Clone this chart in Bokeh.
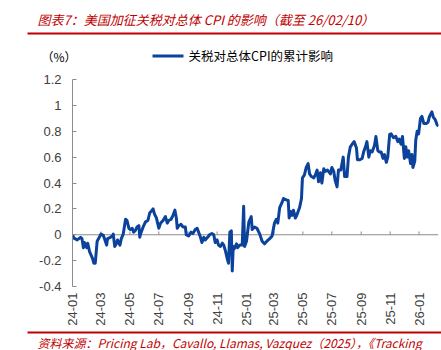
import pandas as pd
from bokeh.plotting import figure
from bokeh.layouts import column
from bokeh.models import (Label, Span, FixedTicker, Range1d,
                          ColumnDataSource, CustomJSTickFormatter)
from bokeh.embed import file_html
from bokeh.resources import INLINE

# ---------------- data ----------------
start_date = "2024-01-01"
day_offsets = [0, 3, 10, 17, 20, 23, 25, 30, 32, 36, 42, 45, 48, 52, 58, 60, 65, 67, 72, 74,
               80, 84, 86, 89, 93, 95, 100, 103, 107, 112, 115, 119, 122, 126, 129, 133, 136, 140, 142, 143,
               149, 154, 159, 163, 166, 170, 173, 177, 182, 186, 191, 196, 200, 203, 208, 212, 216, 219, 221, 224,
               229, 233, 238, 240, 245, 250, 254, 259, 263, 266, 270, 273, 277, 280, 285, 289, 294, 298, 301, 305,
               308, 312, 316, 319, 323, 326, 329, 332, 335, 337, 339, 341, 346, 348, 353, 358, 361, 363, 367, 372,
               377, 379, 384, 389, 395, 400, 405, 410, 416, 421, 426, 430, 433, 437, 442, 445, 451, 455, 457, 460,
               463, 466, 470, 473, 479, 483, 485, 489, 493, 497, 500, 504, 509, 512, 516, 519, 523, 526, 530, 533,
               538, 544, 547, 551, 554, 558, 561, 566, 571, 574, 579, 582, 586, 590, 594, 599, 601, 606, 611, 614,
               618, 621, 625, 628, 632, 637, 640, 644, 647, 651, 655, 658, 662, 665, 669, 672, 677, 682, 686, 689,
               693, 696, 700, 703, 706, 709, 713, 716, 718, 722, 724, 727, 730, 734, 737, 741, 746, 750, 753, 758,
               761, 765, 769, 772]
cpi_impact = [0.0, -0.026, -0.04, -0.02, -0.03, -0.10, -0.06, -0.10, -0.065, -0.13, -0.18, -0.22, -0.22, -0.05, -0.01, 0.005, -0.005, -0.026, -0.08, -0.03,
              -0.02, -0.01, 0.005, -0.09, -0.065, -0.04, -0.08, -0.03, 0.005, 0.12, 0.11, 0.05, 0.04, 0.05, 0.02, 0.035, 0.06, 0.07, -0.02, 0.0,
              0.06, 0.10, 0.11, 0.17, 0.18, 0.20, 0.16, 0.13, 0.05, 0.09, 0.11, 0.14, 0.09, 0.11, 0.12, 0.15, 0.19, 0.13, 0.05, 0.07,
              0.08, 0.06, 0.06, 0.0, -0.01, 0.02, 0.01, 0.04, 0.05, 0.02, -0.02, -0.06, -0.02, -0.04, -0.02, 0.0, 0.01, 0.0, -0.06, -0.04,
              -0.08, -0.09, -0.065, -0.08, -0.13, -0.18, -0.22, 0.02, 0.03, -0.28, -0.09, -0.11, -0.07, -0.10, -0.08, -0.08, 0.22, -0.09, -0.05, 0.10,
              0.14, 0.04, 0.06, 0.05, 0.005, -0.05, -0.07, -0.05, -0.03, -0.01, 0.09, 0.12, 0.09, 0.21, 0.25, 0.28, 0.27, 0.265, 0.13, 0.18,
              0.15, 0.19, 0.13, 0.15, 0.21, 0.28, 0.44, 0.46, 0.52, 0.55, 0.47, 0.45, 0.44, 0.46, 0.50, 0.41, 0.48, 0.40, 0.51, 0.49,
              0.50, 0.47, 0.52, 0.49, 0.42, 0.37, 0.50, 0.50, 0.60, 0.45, 0.45, 0.60, 0.68, 0.70, 0.72, 0.67, 0.58, 0.58, 0.59, 0.64,
              0.68, 0.72, 0.60, 0.65, 0.64, 0.69, 0.76, 0.65, 0.64, 0.64, 0.59, 0.62, 0.56, 0.60, 0.775, 0.78, 0.75, 0.76, 0.72, 0.74,
              0.70, 0.76, 0.59, 0.68, 0.60, 0.65, 0.55, 0.62, 0.52, 0.57, 0.73, 0.80, 0.78, 0.90, 0.915, 0.86, 0.86, 0.87, 0.915, 0.95,
              0.91, 0.89, 0.85, 0.84]
x_tick_labels = ["24-01", "24-03", "24-05", "24-07", "24-09", "24-11", "25-01",
                 "25-03", "25-05", "25-07", "25-09", "25-11", "26-01"]
y_ticks = [-0.4, -0.2, 0, 0.2, 0.4, 0.6, 0.8, 1, 1.2]
series_name = "关税对总体CPI的累计影响"
title_text = "图表7：美国加征关税对总体 CPI 的影响（截至  26/02/10）"
unit_text = "（%）"
source_text = "资料来源：Pricing Lab，Cavallo, Llamas, Vazquez（2025），《Tracking"

# ---------------- derived ----------------
start = pd.Timestamp(start_date)
tick_days = [(pd.Timestamp("20" + lab + "-01") - start).days for lab in x_tick_labels]
src = ColumnDataSource(dict(x=day_offsets, y=cpi_impact))

RED = "#C00000"
BLUE = "#0B429C"
GREY = "#8C8C8C"
TXT = "#404040"
CJK = "Noto Sans CJK SC"
W = 441
TOP_H, MAIN_H, BOT_H = 70, 258, 22


def no_align(f):
    try:
        f.frame_align = False
    except Exception:
        pass


def panel(h):
    """A plain figure whose frame is the whole panel; coordinates are pixels, y downward."""
    f = figure(width=W, height=h, output_backend="svg", toolbar_location=None,
               x_range=Range1d(0, W), y_range=Range1d(h, 0),
               x_axis_location=None, y_axis_location=None,
               min_border=0, min_border_left=0, min_border_right=0,
               min_border_top=0, min_border_bottom=0)
    f.outline_line_color = None
    f.xgrid.visible = False
    f.ygrid.visible = False
    f.border_fill_color = "white"
    f.background_fill_color = "white"
    no_align(f)
    return f


# ---------- top panel: title + legend ----------
top = panel(TOP_H)
top.add_layout(Label(x=37, y=19, text=title_text, text_font=CJK, text_font_size="13px",
                     text_font_style="italic", text_color=RED, text_baseline="middle"))
top.segment(x0=[27], x1=[W], y0=[33], y1=[33], line_color=RED, line_width=2)
top.add_layout(Label(x=41, y=56, text=unit_text, text_font=CJK, text_font_size="12px",
                     text_color="#000000", text_baseline="middle"))
top.segment(x0=[152], x1=[183], y0=[55.5], y1=[55.5], line_color=BLUE, line_width=3)
top.add_layout(Label(x=188, y=55, text=series_name, text_font=CJK, text_font_size="12.5px",
                     text_color="#000000", text_baseline="middle"))

# ---------- main chart ----------
p = figure(width=W, height=MAIN_H, output_backend="svg", toolbar_location=None,
           x_range=Range1d(0, max(day_offsets)), y_range=Range1d(min(y_ticks), max(y_ticks)),
           min_border_left=72, min_border_right=3, min_border_top=9, min_border_bottom=42)
p.outline_line_color = None
p.xgrid.visible = False
p.ygrid.visible = False
p.background_fill_color = "white"
p.border_fill_color = "white"
no_align(p)

p.add_layout(Span(location=0, dimension="width", line_color=GREY, line_width=1, level="underlay"))
tick_h = (max(y_ticks) - min(y_ticks)) * 0.016
p.segment(x0=tick_days[1:], x1=tick_days[1:], y0=[0] * (len(tick_days) - 1),
          y1=[tick_h] * (len(tick_days) - 1), line_color=GREY, line_width=1)

p.line("x", "y", source=src, line_color=BLUE, line_width=3, line_join="round")

ya = p.yaxis[0]
ya.ticker = FixedTicker(ticks=y_ticks)
ya.formatter = CustomJSTickFormatter(code="return String(Math.round(tick*10)/10);")
ya.axis_line_color = GREY
ya.major_tick_line_color = GREY
ya.major_tick_in = 4
ya.major_tick_out = 0
ya.minor_tick_line_color = None
ya.minor_tick_in = 0
ya.minor_tick_out = 0
ya.major_label_standoff = 11
ya.major_label_text_font = "Liberation Sans"
ya.major_label_text_font_size = "13px"
ya.major_label_text_color = TXT

xa = p.xaxis[0]
xa.ticker = FixedTicker(ticks=tick_days)
xa.major_label_overrides = {d: lab for d, lab in zip(tick_days, x_tick_labels)}
xa.major_label_orientation = 3.14159265 / 2
xa.axis_line_color = None
xa.major_tick_line_color = None
xa.minor_tick_line_color = None
xa.major_tick_in = 0
xa.major_tick_out = 0
xa.minor_tick_in = 0
xa.minor_tick_out = 0
xa.axis_label_standoff = 0
xa.major_label_standoff = 6
xa.major_label_text_font = "Liberation Sans"
xa.major_label_text_font_size = "13px"
xa.major_label_text_color = TXT

# ---------- bottom panel: source ----------
bot = panel(BOT_H)
bot.segment(x0=[27], x1=[W], y0=[4], y1=[4], line_color=RED, line_width=2)
bot.add_layout(Label(x=37, y=14, text=source_text, text_font=CJK, text_font_size="12px",
                     text_font_style="italic", text_color=RED, text_baseline="middle"))

layout = column(top, p, bot, spacing=0)
open("out.html", "w").write(file_html(layout, INLINE))
